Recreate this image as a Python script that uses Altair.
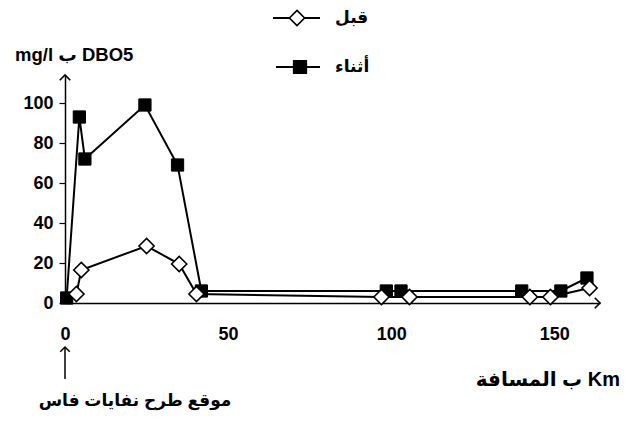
import altair as alt
import pandas as pd

# Data
before_x = [3.5, 5, 25, 35, 40.3, 97, 105.6, 142.5, 148.8, 160.8]
before_y = [4.5, 16.5, 28.5, 19.5, 4.5, 3, 3, 3, 3, 7.5]
during_x = [0.5, 4.4, 6.1, 24.5, 34.5, 41.8, 98.5, 103, 140, 152, 160]
during_y = [2.5, 93, 72, 99, 69, 6, 6, 6, 6, 6, 12.5]

label_before = "قبل"
label_during = "أثناء"
x_ticks = [0, 50, 100, 150]
y_ticks = [0, 20, 40, 60, 80, 100]
y_title = "mg/l ب DBO5"
x_title = "ب المسافة Km"
note = "موقع طرح نفايات فاس"

FONT = "Liberation Sans, DejaVu Sans, Arial"

df_b = pd.DataFrame({"x": before_x, "y": before_y, "i": list(range(len(before_x)))})
df_d = pd.DataFrame({"x": during_x, "y": during_y, "i": list(range(len(during_x)))})

xs = alt.Scale(domain=[0, 164], nice=False, zero=False)
ys = alt.Scale(domain=[0, 114], nice=False)

xaxis = alt.Axis(values=x_ticks, grid=False, ticks=False, domainColor="black",
                 domainWidth=1.5, labelFont=FONT, labelFontSize=18,
                 labelFontWeight="bold", labelColor="black", labelPadding=22,
                 title=None, labelFlush=False)
yaxis = alt.Axis(values=y_ticks, grid=False, tickColor="black", tickSize=6,
                 tickWidth=1.2, domainColor="black", domainWidth=1.5,
                 labelFont=FONT, labelFontSize=18, labelFontWeight="bold",
                 labelColor="black", labelPadding=6, title=None)

X = lambda: alt.X("x:Q", scale=xs, axis=xaxis)
Y = lambda: alt.Y("y:Q", scale=ys, axis=yaxis)

line_d = alt.Chart(df_d).mark_line(color="black", strokeWidth=2).encode(x=X(), y=Y(), order="i:Q")
line_b = alt.Chart(df_b).mark_line(color="black", strokeWidth=2).encode(x=X(), y=Y(), order="i:Q")
pts_d = alt.Chart(df_d).mark_point(shape="square", filled=True, fill="black",
                                   stroke="black", strokeWidth=1, size=150, opacity=1).encode(x=X(), y=Y())
pts_b = alt.Chart(df_b).mark_point(shape="diamond", filled=True, fill="white",
                                   stroke="black", strokeWidth=1.6, size=230, opacity=1).encode(x=X(), y=Y())

one = pd.DataFrame({"k": [0]})

def txt(s, x, y, size, align="left"):
    return alt.Chart(pd.DataFrame({"t": [s]})).mark_text(
        font=FONT, fontSize=size, fontWeight="bold", color="black",
        align=align, baseline="middle").encode(
        text="t:N", x=alt.value(x), y=alt.value(y))

# arrows on axes
arrow_x = alt.Chart(one).mark_point(shape="M-1,-1L0,0L-1,1", filled=False, stroke="black",
                                    strokeWidth=1.6, size=110, opacity=1).encode(
    x=alt.value(535), y=alt.value(228))
arrow_y = alt.Chart(one).mark_point(shape="M-1,1L0,0L1,1", filled=False, stroke="black",
                                    strokeWidth=1.6, size=110, opacity=1).encode(
    x=alt.value(0), y=alt.value(0))

# annotation arrow
note_rule = alt.Chart(one).mark_rule(color="black", strokeWidth=1.5).encode(
    x=alt.value(0), y=alt.value(272), y2=alt.value(304))
note_head = alt.Chart(one).mark_point(shape="M-1,1L0,0L1,1", filled=False, stroke="black",
                                      strokeWidth=1.5, size=90, opacity=1).encode(
    x=alt.value(0), y=alt.value(272))

# legend
leg_l1 = alt.Chart(one).mark_rule(color="black", strokeWidth=2).encode(
    x=alt.value(208), x2=alt.value(255), y=alt.value(-57))
leg_p1 = alt.Chart(one).mark_point(shape="diamond", filled=True, fill="white", stroke="black",
                                   strokeWidth=1.6, size=230, opacity=1).encode(
    x=alt.value(232), y=alt.value(-57))
leg_l2 = alt.Chart(one).mark_rule(color="black", strokeWidth=2).encode(
    x=alt.value(211), x2=alt.value(255), y=alt.value(-8))
leg_p2 = alt.Chart(one).mark_point(shape="square", filled=True, fill="black", stroke="black",
                                   size=150, opacity=1).encode(
    x=alt.value(235), y=alt.value(-8))

chart = alt.layer(
    line_d, line_b, pts_d, pts_b,
    arrow_x, arrow_y, note_rule, note_head,
    leg_l1, leg_p1, leg_l2, leg_p2,
    txt(label_before, 270, -57, 17),
    txt(label_during, 270, -8, 17),
    txt(y_title, -50, -20, 18.5),
    txt(x_title, 555, 305, 20, align="right"),
    txt(note, 70, 326, 17, align="center"),
).properties(
    width=535, height=228,
    padding={"left": 57, "top": 67, "right": 27, "bottom": 110},
    autosize=alt.AutoSizeParams(type="none"),
    background="white",
).configure_view(stroke=None)

chart.save("out.html", embed_options={"renderer": "svg", "actions": False})
